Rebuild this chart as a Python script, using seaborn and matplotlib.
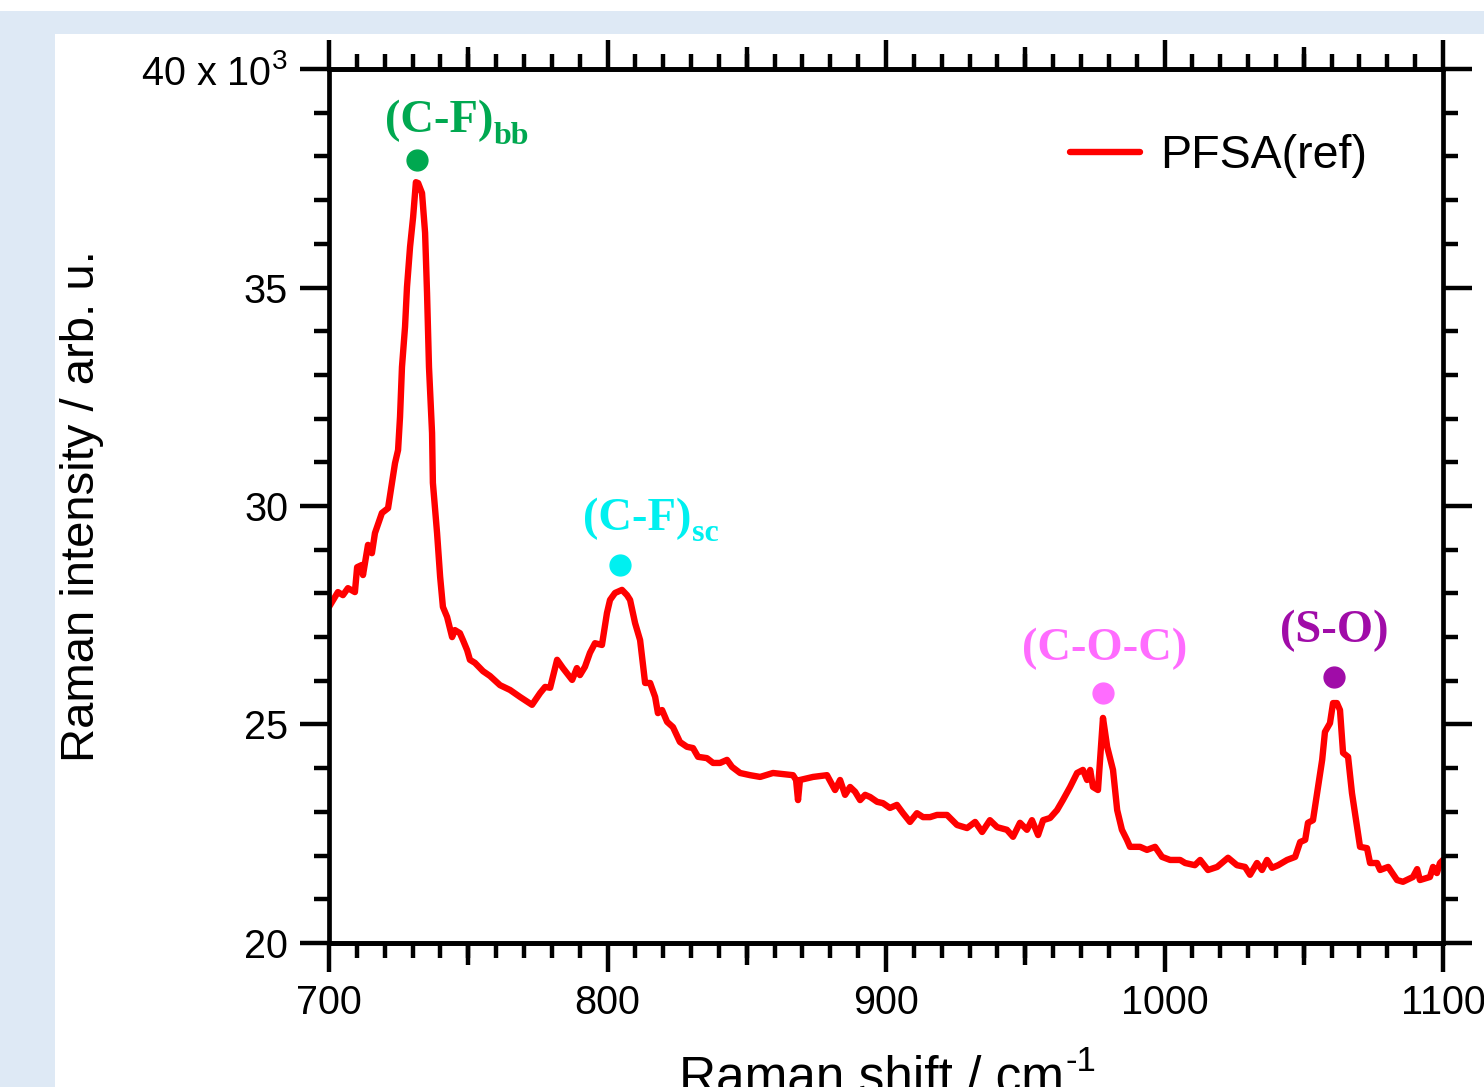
import matplotlib
matplotlib.use("Agg")
import matplotlib.pyplot as plt
from matplotlib.patches import Rectangle
from matplotlib.ticker import MultipleLocator, FixedLocator
import seaborn as sns
import pandas as pd

# Raman spectrum of PFSA(ref)
shift = [700.0, 703.2, 705.0, 706.8, 709.3, 710.1, 711.8, 712.2, 714.0, 715.4,
         716.5, 719.0, 721.2, 722.6, 723.7, 724.8, 725.5, 726.2, 727.3, 728.0,
         729.1, 730.2, 731.2, 732.0, 733.4, 734.5, 735.2, 735.9, 737.0, 737.3,
         738.8, 739.9, 740.9, 742.4, 744.2, 745.2, 747.0, 748.1, 749.6, 750.6,
         752.4, 755.3, 757.8, 761.4, 765.0, 768.6, 772.9, 775.8, 777.6, 779.4,
         781.9, 784.0, 787.3, 789.0, 790.1, 791.9, 793.7, 795.5, 798.0, 799.8,
         800.9, 802.7, 805.2, 807.0, 808.1, 809.9, 811.7, 813.5, 815.3, 817.1,
         818.1, 819.6, 821.4, 823.5, 826.0, 828.5, 830.7, 832.5, 835.7, 837.9,
         840.4, 842.9, 844.7, 847.6, 851.2, 854.8, 859.4, 866.6, 867.7, 868.4,
         869.1, 873.8, 878.8, 881.7, 883.5, 885.3, 887.1, 888.9, 890.7, 892.5,
         894.3, 896.8, 898.9, 901.4, 903.9, 906.1, 908.6, 911.1, 913.3, 915.8,
         918.3, 921.9, 925.5, 929.1, 932.0, 934.5, 937.3, 939.9, 943.4, 945.6,
         948.1, 950.6, 952.4, 954.6, 956.4, 958.9, 961.4, 963.5, 966.1, 968.6,
         970.7, 972.2, 973.3, 974.3, 976.1, 977.9, 979.4, 981.5, 983.0, 984.7,
         986.5, 987.6, 991.2, 993.7, 996.6, 999.1, 1002.0, 1005.6, 1007.4, 1010.9,
         1012.8, 1015.6, 1018.9, 1022.8, 1026.0, 1028.9, 1030.7, 1033.2, 1035.0, 1036.8,
         1038.6, 1040.8, 1044.0, 1046.9, 1048.7, 1050.5, 1051.5, 1053.3, 1055.1, 1056.6,
         1057.6, 1059.4, 1060.5, 1061.9, 1063.0, 1064.1, 1065.9, 1067.3, 1070.2, 1072.7,
         1073.8, 1076.3, 1077.4, 1080.3, 1083.5, 1085.6, 1089.2, 1090.7, 1091.7, 1095.3,
         1096.4, 1097.8, 1098.9, 1100.0]
intensity = [27.69, 28.03, 27.96, 28.12, 28.03, 28.60, 28.65, 28.42, 29.11, 28.92,
             29.38, 29.84, 29.95, 30.53, 30.98, 31.28, 32.04, 33.18, 34.10, 35.01,
             35.93, 36.61, 37.41, 37.39, 37.16, 36.25, 34.87, 33.18, 31.67, 30.53,
             29.38, 28.38, 27.69, 27.46, 27.00, 27.16, 27.09, 26.93, 26.70, 26.48,
             26.41, 26.22, 26.11, 25.90, 25.79, 25.63, 25.45, 25.72, 25.86, 25.84,
             26.48, 26.29, 26.02, 26.29, 26.13, 26.32, 26.64, 26.86, 26.82, 27.55,
             27.85, 28.01, 28.08, 27.96, 27.85, 27.32, 26.93, 25.95, 25.95, 25.63,
             25.26, 25.33, 25.06, 24.94, 24.60, 24.49, 24.46, 24.26, 24.23, 24.12,
             24.12, 24.19, 24.03, 23.89, 23.84, 23.80, 23.89, 23.84, 23.73, 23.27,
             23.73, 23.80, 23.84, 23.50, 23.73, 23.39, 23.57, 23.46, 23.27, 23.39,
             23.34, 23.23, 23.20, 23.09, 23.16, 22.97, 22.77, 22.97, 22.88, 22.88,
             22.93, 22.93, 22.70, 22.63, 22.77, 22.54, 22.81, 22.65, 22.59, 22.43,
             22.75, 22.59, 22.81, 22.47, 22.81, 22.86, 23.04, 23.27, 23.57, 23.89,
             23.96, 23.73, 23.96, 23.57, 23.50, 25.15, 24.49, 23.96, 23.04, 22.59,
             22.36, 22.20, 22.20, 22.13, 22.20, 21.97, 21.90, 21.90, 21.83, 21.78,
             21.90, 21.67, 21.74, 21.95, 21.78, 21.74, 21.56, 21.83, 21.67, 21.90,
             21.72, 21.78, 21.90, 21.97, 22.31, 22.36, 22.75, 22.81, 23.57, 24.19,
             24.83, 25.03, 25.49, 25.49, 25.33, 24.35, 24.26, 23.43, 22.20, 22.17,
             21.83, 21.83, 21.67, 21.74, 21.44, 21.40, 21.51, 21.69, 21.44, 21.51,
             21.74, 21.60, 21.83, 21.90]

# band assignments: marker position and label position
band_names = ["(C-F)", "(C-F)", "(C-O-C)", "(S-O)"]
band_subs = ["bb", "sc", "", ""]
band_colors = ["#00a850", "#00f0f0", "#ff6cff", "#a00ca8"]
dot_x = [731.6, 804.5, 977.9, 1060.9]
dot_y = [37.92, 28.65, 25.72, 26.09]
label_x = [720.1, 791.2, 948.8, 1041.4]
label_y = [38.55, 29.45, 26.48, 26.89]

sns.set_style("white")
plt.rcParams["font.family"] = ["Liberation Sans", "DejaVu Sans"]
plt.rcParams["mathtext.fontset"] = "custom"
plt.rcParams["mathtext.rm"] = "Liberation Sans"
plt.rcParams["mathtext.it"] = "Liberation Sans"
for key in ["text.color", "axes.labelcolor", "xtick.color", "ytick.color",
            "axes.edgecolor"]:
    plt.rcParams[key] = "black"

fig = plt.figure(figsize=(14.84, 10.87), dpi=100)
fig.patch.set_facecolor("#dee9f5")
fig.add_artist(Rectangle((0, 0.9899), 1, 0.0101, transform=fig.transFigure,
                         facecolor="white", edgecolor="none", zorder=-10))
fig.add_artist(Rectangle((0.0371, 0), 0.9629, 0.9687, transform=fig.transFigure,
                         facecolor="white", edgecolor="none", zorder=-10))
ax = fig.add_axes([0.2217, 0.1325, 0.7507, 0.8040])
ax.set_facecolor("none")

df = pd.DataFrame({"shift": shift, "intensity": intensity})
sns.lineplot(data=df, x="shift", y="intensity", ax=ax, color="#ff0000",
             linewidth=4.6, estimator=None, sort=False, label="PFSA(ref)")

ax.set_xlim(700, 1100)
ax.set_ylim(20, 40)

# band markers and labels
for name, sub, col, dx, dy, lx, ly in zip(band_names, band_subs, band_colors,
                                          dot_x, dot_y, label_x, label_y):
    ax.plot([dx], [dy], marker="o", markersize=15, color=col, linestyle="none")
    t = ax.text(lx, ly, name, color=col, fontsize=33.5, fontweight="bold",
                family="Liberation Serif", ha="left", va="baseline")
    if sub:
        ax.annotate(sub, xy=(1, 0), xycoords=t, xytext=(0.5, -1),
                    textcoords="offset points", color=col, fontsize=23,
                    fontweight="bold", family="Liberation Serif",
                    ha="left", va="baseline")

# ticks
ax.xaxis.set_major_locator(MultipleLocator(100))
ax.xaxis.set_minor_locator(MultipleLocator(10))
ax.set_yticks([20, 25, 30, 35, 40])
ax.set_yticklabels(["20", "25", "30", "35", "40 x 10$^{3}$"])
ax.yaxis.set_minor_locator(MultipleLocator(1))
ax.tick_params(which="both", direction="out", bottom=True, left=True,
               top=True, right=True, labeltop=False, labelright=False,
               width=3.2, color="black")
ax.tick_params(which="major", length=21, labelsize=28.5, pad=8.5)
ax.tick_params(which="minor", length=10.8)
for spine in ax.spines.values():
    spine.set_linewidth(3.4)

# medium ticks at the 50s
for side in ["bottom", "top"]:
    sec = ax.secondary_xaxis(side)
    sec.xaxis.set_major_locator(FixedLocator([750, 850, 950, 1050]))
    sec.tick_params(direction="out", length=15.8, width=3.2, bottom=(side == "bottom"),
                    top=(side == "top"), labelbottom=False, labeltop=False)
    sec.spines[side].set_linewidth(3.4)

# x label with a plain hyphen in the exponent, cut by the figure edge as in the source
ax.set_xlabel("Raman shift / cm", fontsize=37)
ax.xaxis.set_label_coords(0.487, -0.128)
ax.annotate("-1", xy=(1, 1), xycoords=ax.xaxis.label, xytext=(1, 7),
            textcoords="offset points", fontsize=25, ha="left", va="top")
ax.set_ylabel("Raman intensity / arb. u.", fontsize=34)
ax.yaxis.set_label_coords(-0.202, 0.5)

leg = ax.legend(loc="center left", bbox_to_anchor=(0.665, 0.9), frameon=False,
                fontsize=33.5, handlelength=1.5, handletextpad=0.45,
                borderpad=0, borderaxespad=0)

fig.savefig("out.png", dpi=100, facecolor=fig.get_facecolor())
